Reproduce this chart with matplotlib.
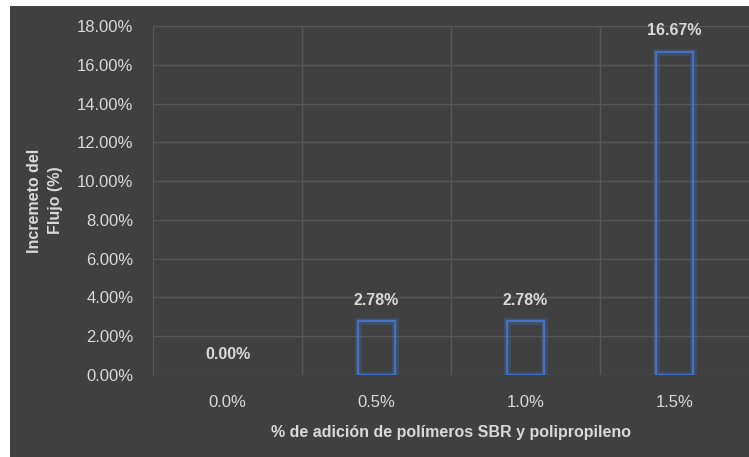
import matplotlib.pyplot as plt
from matplotlib.patches import Rectangle
from matplotlib.colors import to_rgba
from matplotlib.ticker import FuncFormatter

# Datos del grafico
categorias = ['0.0%', '0.5%', '1.0%', '1.5%']
incremento = [0.00, 2.78, 2.78, 16.67]
etiquetas = ['0.00%', '2.78%', '2.78%', '16.67%']

fondo = '#404040'
texto = '#d9d9d9'
azul = '#4472c4'

plt.rcParams['font.family'] = ['Liberation Sans', 'DejaVu Sans']

fig = plt.figure(figsize=(7.49, 4.57), dpi=100, facecolor='white')
fig.patches.append(Rectangle((10/749, 0), 1, 1 - 6/457, transform=fig.transFigure,
                             facecolor=fondo, edgecolor='none', zorder=-10))
ax = fig.add_axes([153/749, 82/457, 596/749, 349/457])
ax.set_facecolor(fondo)

x = range(len(categorias))
# barras de valor cero sin borde (como en el original)
bordes = [to_rgba(azul) if v > 0 else (0, 0, 0, 0) for v in incremento]
brillo = [to_rgba(azul, 0.25) if v > 0 else (0, 0, 0, 0) for v in incremento]
ax.bar(x, incremento, width=0.25, facecolor='none', edgecolor=brillo, linewidth=5, zorder=3)
ax.bar(x, incremento, width=0.25, facecolor='none', edgecolor=bordes, linewidth=1.6, zorder=4)

for i, (v, t) in enumerate(zip(incremento, etiquetas)):
    ax.annotate(t, (i, v), xytext=(0, 15), textcoords='offset points', ha='center', va='center',
                color=texto, fontsize=11.5, fontweight='bold')

ax.set_xlim(-0.5, 3.5)
ax.set_ylim(0, 18)
ax.set_yticks(range(0, 19, 2))
ax.yaxis.set_major_formatter(FuncFormatter(lambda v, p: f'{v:.2f}%'))
ax.set_xticks(list(x))
ax.set_xticklabels(categorias)
ax.set_xticks([0.5, 1.5, 2.5], minor=True)

ax.grid(axis='y', color='#575757', linewidth=1)
ax.grid(axis='x', which='minor', color='#575757', linewidth=1)
ax.set_axisbelow(True)
for s in ax.spines.values():
    s.set_visible(False)
ax.spines['left'].set_visible(True)
ax.spines['left'].set_color('#575757')

ax.tick_params(axis='both', which='both', length=0, colors=texto, labelsize=12)
ax.tick_params(axis='y', pad=14)
ax.tick_params(axis='x', pad=14.5)

ax.set_xlabel('% de adición de polímeros SBR y polipropileno', color=texto, fontsize=11.5,
              fontweight='bold', labelpad=11)
ax.set_ylabel('Incremeto del\nFlujo (%)', color=texto, fontsize=11.5, fontweight='bold',
              labelpad=10, linespacing=1.5)

fig.savefig('out.png', dpi=100, facecolor=fig.get_facecolor())
